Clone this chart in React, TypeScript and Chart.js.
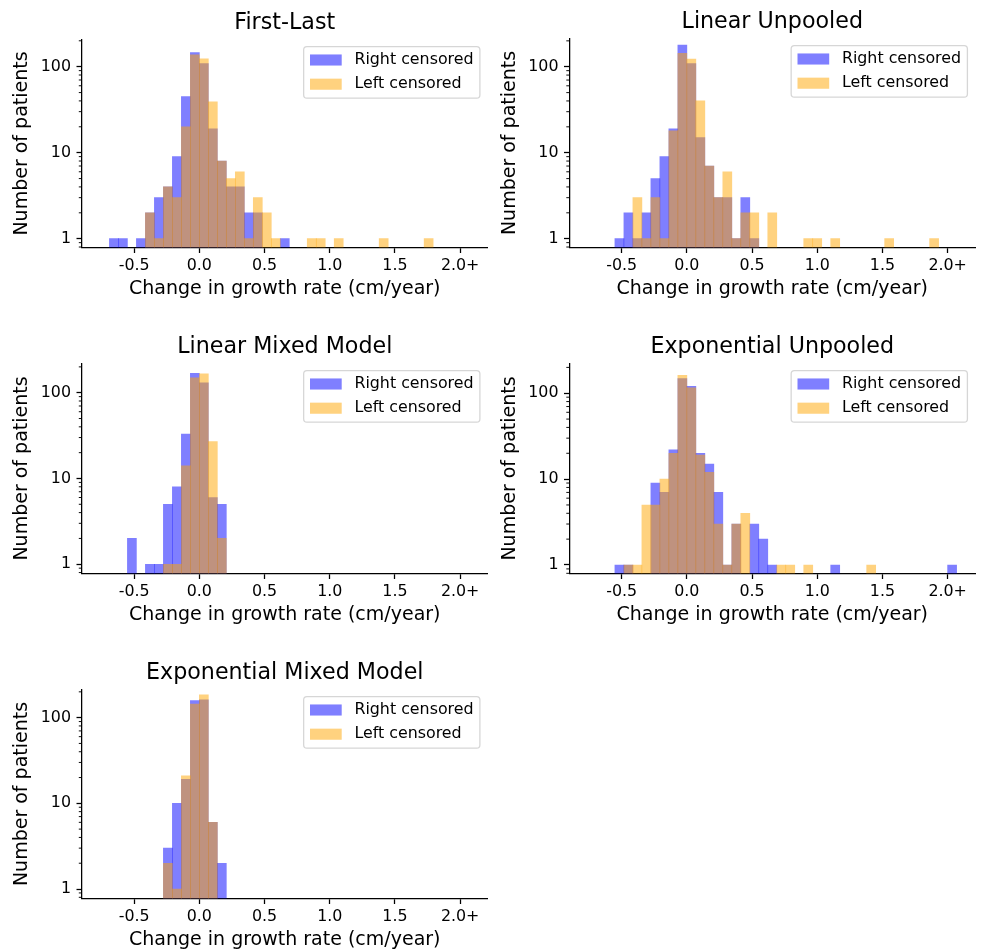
import React, { useEffect, useRef } from "react";
import { Chart, registerables } from "chart.js";

Chart.register(...registerables);

const FONT = "'DejaVu Sans', sans-serif";

// ---- Histogram bins: width 2/29 cm/year, bin index k = -11 .. 29 (last bin = "2.0+") ----
const BIN_WIDTH = 2 / 29;
const FIRST_BIN = -11;
const BIN_COUNT = 41;

// ---- Axis ticks / limits ----
const X_MIN = -0.9;
const X_MAX = 2.21;
const xTickValues = [-0.5, 0, 0.5, 1, 1.5, 2];
const xTickLabels = ["-0.5", "0.0", "0.5", "1.0", "1.5", "2.0+"];
const yTickValues = [1, 10, 100];
const yMinorValues = [0.8, 0.9, 2, 3, 4, 5, 6, 7, 8, 9, 20, 30, 40, 50, 60, 70, 80, 90, 200];
const yMins = [0.79, 0.79, 0.78, 0.796, 0.775];
const yMaxs = [207, 213, 219, 222, 213];

const panelTitles = [
  "First-Last",
  "Linear Unpooled",
  "Linear Mixed Model",
  "Exponential Unpooled",
  "Exponential Mixed Model",
];
const seriesLabels = ["Right censored", "Left censored"];
const xAxisLabel = "Change in growth rate (cm/year)";
const yAxisLabel = "Number of patients";

// ---- Counts per bin (k = -11 .. 29) ----
const firstLastRight = [0, 1, 1, 0, 1, 2, 3, 4, 9, 45, 146, 109, 19, 8, 4, 4, 2, 2, 0, 0, 1,
  0, 0, 0, 0, 0, 0, 0, 0, 0, 0, 0, 0, 0, 0, 0, 0, 0, 0, 0, 0];
const firstLastLeft = [0, 0, 0, 0, 0, 2, 1, 4, 3, 20, 137, 123, 39, 8, 5, 6, 1, 3, 2, 1,
  0, 0, 0, 1, 1, 0, 1, 0, 0, 0, 0, 1, 0, 0, 0, 0, 1, 0, 0, 0, 0];

const linearUnpooledRight = [0, 0, 0, 1, 2, 1, 2, 5, 9, 19, 179, 109, 15, 7, 3, 3, 1, 3, 1,
  0, 0, 0, 0, 0, 0, 0, 0, 0, 0, 0, 0, 0, 0, 0, 0, 0, 0, 0, 0, 0, 0];
const linearUnpooledLeft = [0, 0, 0, 0, 0, 3, 1, 3, 1, 18, 143, 123, 40, 7, 3, 6, 1, 2, 2,
  0, 2, 0, 0, 0, 1, 1, 0, 1, 0, 0, 0, 0, 0, 1, 0, 0, 0, 0, 1, 0, 0];

const linearMixedRight = [0, 0, 0, 2, 0, 1, 1, 5, 8, 33, 168, 130, 6, 5,
  0, 0, 0, 0, 0, 0, 0, 0, 0, 0, 0, 0, 0, 0, 0, 0, 0, 0, 0, 0, 0, 0, 0, 0, 0, 0, 0];
const linearMixedLeft = [0, 0, 0, 0, 0, 0, 0, 1, 1, 14, 149, 166, 27, 2,
  0, 0, 0, 0, 0, 0, 0, 0, 0, 0, 0, 0, 0, 0, 0, 0, 0, 0, 0, 0, 0, 0, 0, 0, 0, 0, 0];

const expUnpooledRight = [0, 0, 0, 1, 1, 0, 0, 9, 7, 22, 148, 120, 20, 15, 7, 1, 3, 0, 3, 2, 1,
  0, 0, 0, 0, 0, 0, 1, 0, 0, 0, 0, 0, 0, 0, 0, 0, 0, 0, 0, 1];
const expUnpooledLeft = [0, 0, 0, 0, 1, 1, 5, 5, 10, 20, 162, 116, 19, 12, 3, 1, 3, 4, 0, 0, 0, 1, 1, 0, 1,
  0, 0, 0, 0, 0, 0, 1, 0, 0, 0, 0, 0, 0, 0, 0, 0];

const expMixedRight = [0, 0, 0, 0, 0, 0, 0, 3, 10, 19, 158, 161, 6, 2,
  0, 0, 0, 0, 0, 0, 0, 0, 0, 0, 0, 0, 0, 0, 0, 0, 0, 0, 0, 0, 0, 0, 0, 0, 0, 0, 0];
const expMixedLeft = [0, 0, 0, 0, 0, 0, 0, 2, 1, 21, 144, 184, 6, 0,
  0, 0, 0, 0, 0, 0, 0, 0, 0, 0, 0, 0, 0, 0, 0, 0, 0, 0, 0, 0, 0, 0, 0, 0, 0, 0, 0];

const rightSeries = [firstLastRight, linearUnpooledRight, linearMixedRight, expUnpooledRight, expMixedRight];
const leftSeries = [firstLastLeft, linearUnpooledLeft, linearMixedLeft, expUnpooledLeft, expMixedLeft];

// ---- Layout (page pixels) ----
const LAYOUT = [
  { left: 0, top: 0, width: 492, height: 300, pL: 82, pT: 39.5, pR: 487.5, pB: 247.5 },
  { left: 488, top: 0, width: 492, height: 300, pL: 569.5, pT: 38.5, pR: 975, pB: 247.5 },
  { left: 0, top: 324, width: 492, height: 302, pL: 82, pT: 363.5, pR: 487.5, pB: 573.5 },
  { left: 488, top: 324, width: 492, height: 302, pL: 569.5, pT: 363.5, pR: 975, pB: 573.5 },
  { left: 0, top: 650, width: 492, height: 301, pL: 82, pT: 689.5, pR: 487.5, pB: 898.5 },
];

const BLUE = "rgba(0, 0, 255, 0.5)";
const ORANGE = "rgba(255, 165, 0, 0.5)";
const TICK_FS = 15.85;
const LABEL_FS = 19;
const TITLE_FS = 22.2;

const binCenters = Array.from({ length: BIN_COUNT }, (_, i) => (FIRST_BIN + i + 0.5) * BIN_WIDTH);

function toPoints(counts: number[]) {
  return binCenters.map((x, i) => ({ x, y: counts[i] > 0 ? counts[i] : null }));
}

const decorPlugin = {
  id: "decor",
  afterDraw(chart: any, _args: any, opts: any) {
    const { ctx, chartArea } = chart;
    const yScale = chart.scales.y;
    ctx.save();
    // minor log ticks
    ctx.strokeStyle = "#000";
    ctx.lineWidth = 0.95;
    for (const v of yMinorValues) {
      if (v < yScale.min || v > yScale.max) continue;
      const y = yScale.getPixelForValue(v);
      ctx.beginPath();
      ctx.moveTo(chartArea.left - 3.2, y);
      ctx.lineTo(chartArea.left, y);
      ctx.stroke();
    }
    // title
    ctx.fillStyle = "#000";
    ctx.font = `${TITLE_FS}px ${FONT}`;
    ctx.textAlign = "center";
    ctx.textBaseline = "alphabetic";
    ctx.fillText(opts.title, (chartArea.left + chartArea.right) / 2, chartArea.top - 10.5);

    // legend
    const fs = TICK_FS;
    ctx.font = `${fs}px ${FONT}`;
    const datasets = chart.data.datasets;
    let textW = 0;
    for (const d of datasets) textW = Math.max(textW, ctx.measureText(d.label).width);
    const pad = 0.4 * fs;
    const handleW = 2 * fs;
    const handleH = 0.7 * fs;
    const textPad = 0.8 * fs;
    const boxW = pad + handleW + textPad + textW + pad;
    const boxH = 51.5;
    const boxR = chartArea.right - 7.6;
    const boxL = boxR - boxW;
    const boxT = chartArea.top + 7.2;
    const r = 0.2 * fs;
    ctx.beginPath();
    ctx.moveTo(boxL + r, boxT);
    ctx.lineTo(boxR - r, boxT);
    ctx.arcTo(boxR, boxT, boxR, boxT + r, r);
    ctx.lineTo(boxR, boxT + boxH - r);
    ctx.arcTo(boxR, boxT + boxH, boxR - r, boxT + boxH, r);
    ctx.lineTo(boxL + r, boxT + boxH);
    ctx.arcTo(boxL, boxT + boxH, boxL, boxT + boxH - r, r);
    ctx.lineTo(boxL, boxT + r);
    ctx.arcTo(boxL, boxT, boxL + r, boxT, r);
    ctx.closePath();
    ctx.fillStyle = "rgba(255,255,255,0.8)";
    ctx.fill();
    ctx.strokeStyle = "rgba(204,204,204,0.8)";
    ctx.lineWidth = 1.27;
    ctx.stroke();
    const rows = [boxT + 13.3, boxT + 37.5];
    datasets.forEach((d: any, i: number) => {
      const cy = rows[i];
      ctx.fillStyle = d.backgroundColor;
      ctx.fillRect(boxL + pad, cy - handleH / 2, handleW, handleH);
      ctx.fillStyle = "#000";
      ctx.textAlign = "left";
      ctx.textBaseline = "middle";
      ctx.fillText(d.label, boxL + pad + handleW + textPad, cy);
    });
    ctx.restore();
  },
};

function HistPanel({ idx }: { idx: number }) {
  const ref = useRef<HTMLCanvasElement | null>(null);
  const lay = LAYOUT[idx];

  useEffect(() => {
    if (!ref.current) return;
    const yw = lay.pL - lay.left;
    const xh = lay.top + lay.height - lay.pB;
    const padTop = lay.pT - lay.top;
    const padRight = lay.left + lay.width - lay.pR;
    const yTitlePad = yw - 70.9;

    const common = {
      grouped: false,
      barPercentage: 1,
      categoryPercentage: 1,
      borderWidth: 0,
    };

    const chart = new Chart(ref.current, {
      type: "bar",
      data: {
        datasets: [
          { ...common, label: seriesLabels[0], data: toPoints(rightSeries[idx]), backgroundColor: BLUE, order: 2 },
          { ...common, label: seriesLabels[1], data: toPoints(leftSeries[idx]), backgroundColor: ORANGE, order: 1 },
        ] as any,
      },
      options: {
        animation: false,
        responsive: false,
        events: [],
        layout: { padding: { left: 0, top: padTop, right: padRight, bottom: 0 } },
        plugins: {
          legend: { display: false },
          title: { display: false },
          tooltip: { enabled: false },
          decor: { title: panelTitles[idx] },
        } as any,
        scales: {
          x: {
            type: "linear",
            min: X_MIN,
            max: X_MAX,
            offset: false,
            grid: {
              display: true,
              drawOnChartArea: false,
              drawTicks: true,
              tickLength: 5.5,
              tickWidth: 1.27,
              tickColor: "#000",
              offset: false,
            },
            border: { display: true, color: "#000", width: 1.27 },
            ticks: {
              font: { family: FONT, size: TICK_FS },
              color: "#000",
              padding: 3,
              autoSkip: false,
              maxRotation: 0,
              minRotation: 0,
              callback: (_v: any, i: number) => xTickLabels[i],
            },
            afterBuildTicks: (s: any) => {
              s.ticks = xTickValues.map((v) => ({ value: v }));
            },
            afterFit: (s: any) => {
              s.height = xh;
            },
            title: {
              display: true,
              text: xAxisLabel,
              color: "#000",
              font: { family: FONT, size: LABEL_FS },
              padding: { top: 0, bottom: 0 },
            },
          },
          y: {
            type: "logarithmic",
            min: yMins[idx],
            max: yMaxs[idx],
            grid: {
              display: true,
              drawOnChartArea: false,
              drawTicks: true,
              tickLength: 5.5,
              tickWidth: 1.27,
              tickColor: "#000",
            },
            border: { display: true, color: "#000", width: 1.27 },
            ticks: {
              font: { family: FONT, size: TICK_FS },
              color: "#000",
              padding: 5.5,
              autoSkip: false,
              callback: (v: any) => String(v),
            },
            afterBuildTicks: (s: any) => {
              s.ticks = yTickValues.filter((v) => v >= s.min && v <= s.max).map((v) => ({ value: v }));
            },
            afterFit: (s: any) => {
              s.width = yw;
            },
            title: {
              display: true,
              text: yAxisLabel,
              color: "#000",
              font: { family: FONT, size: LABEL_FS },
              padding: { top: yTitlePad, bottom: 0 },
            },
          },
        } as any,
      },
      plugins: [decorPlugin as any],
    });
    return () => chart.destroy();
  }, [idx]);

  return (
    <canvas
      ref={ref}
      width={lay.width}
      height={lay.height}
      style={{ position: "absolute", left: lay.left, top: lay.top, width: lay.width, height: lay.height }}
    />
  );
}

export default function App() {
  return (
    <div style={{ position: "absolute", left: 0, top: 0, width: 982, height: 951, background: "#fff" }}>
      {panelTitles.map((_, i) => (
        <HistPanel key={i} idx={i} />
      ))}
    </div>
  );
}
